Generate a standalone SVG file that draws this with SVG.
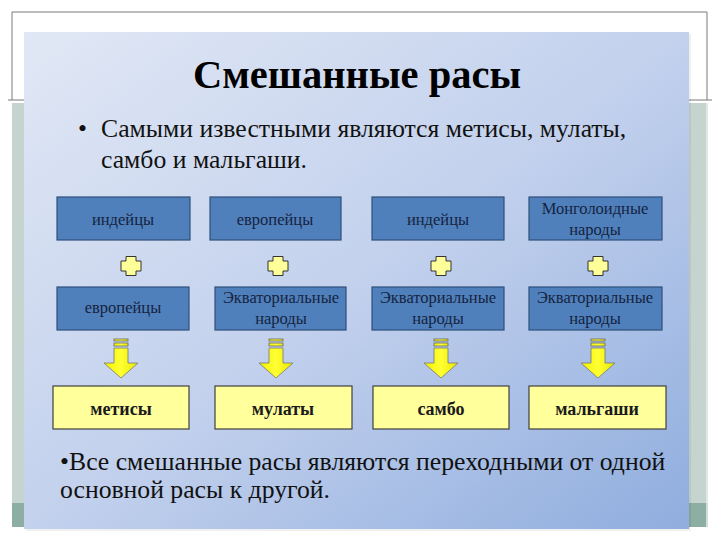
<svg xmlns="http://www.w3.org/2000/svg" width="720" height="540" viewBox="0 0 720 540">
<defs>
<linearGradient id="panel" x1="0" y1="0" x2="1" y2="1">
<stop offset="0" stop-color="#e1e8f5"/>
<stop offset="0.5" stop-color="#c3d1ed"/>
<stop offset="1" stop-color="#8fadde"/>
</linearGradient>
<linearGradient id="arrowFill" x1="0" y1="0" x2="1" y2="0">
<stop offset="0" stop-color="#f2f200"/>
<stop offset="0.5" stop-color="#ffff33"/>
<stop offset="1" stop-color="#e8e800"/>
</linearGradient>
<g id="plus">
<path d="M-5,-9.5 H5 V-5 H10 V5 H5 V9.5 H-5 V5 H-10 V-5 H-5 Z" fill="#ffff99" stroke="#333" stroke-width="1" stroke-linejoin="round"/>
</g>
<g id="arrow">
<rect x="-7" y="0" width="14" height="2" fill="url(#arrowFill)" stroke="#666" stroke-width="0.8"/>
<rect x="-7" y="4" width="14" height="3" fill="url(#arrowFill)" stroke="#666" stroke-width="0.8"/>
<path d="M-7,9 H7 V24 H17 L0,39 L-17,24 H-7 Z" fill="url(#arrowFill)" stroke="#777" stroke-width="0.8" stroke-linejoin="round"/>
</g>
</defs>
<style>
.blue{fill:#4f80bb;stroke:#2d4f7a;stroke-width:1.2}
.yel{fill:#ffff9c;stroke:#404040;stroke-width:1.2}
.bt{font-size:16.5px;fill:#16233f;text-anchor:middle}
.yt{font-size:18px;font-weight:bold;fill:#1a1a1a;text-anchor:middle}
.body{font-size:25.7px;fill:#111}
</style>
<rect x="0" y="0" width="720" height="540" fill="#ffffff"/>
<g id="frame">
<rect x="12" y="103" width="696" height="400" fill="#c6d4cf"/>
<rect x="12" y="503" width="696" height="24" fill="#8daea2"/>
<path d="M12,100 V12 H707 V100" fill="none" stroke="#7a7a7a" stroke-width="1"/>
<line x1="8" y1="100" x2="712" y2="100" stroke="#7a7a7a" stroke-width="1"/>
<line x1="707" y1="103" x2="707" y2="527" stroke="#e8eeec" stroke-width="1.5"/>
</g>
<rect x="26" y="34" width="665" height="497" fill="#000" opacity="0.06"/>
<rect id="panel" x="24" y="32" width="665" height="497" fill="url(#panel)"/>
<g font-family="'Liberation Serif','DejaVu Serif Condensed','DejaVu Serif',serif">
<g id="title">
<text x="357" y="88" text-anchor="middle" font-size="40.5" font-weight="bold" fill="#000">Смешанные расы</text>
</g>
<g id="intro">
<text class="body" x="78" y="137">•</text>
<text class="body" x="101" y="137">Самыми известными являются метисы, мулаты,</text>
<text class="body" x="101" y="168">самбо и мальгаши.</text>
</g>
<g id="n-r1-1"><rect class="blue" x="57" y="197" width="133" height="43"/><text class="bt" x="123" y="225">индейцы</text></g>
<g id="n-r1-2"><rect class="blue" x="210" y="197" width="131" height="43"/><text class="bt" x="275" y="225">европейцы</text></g>
<g id="n-r1-3"><rect class="blue" x="372" y="197" width="132" height="43"/><text class="bt" x="438" y="225">индейцы</text></g>
<g id="n-r1-4"><rect class="blue" x="529" y="197" width="133" height="43"/><text class="bt" x="595" y="214">Монголоидные</text><text class="bt" x="595" y="235">народы</text></g>
<g id="n-r2-1"><rect class="blue" x="57" y="287" width="132" height="43"/><text class="bt" x="123" y="313">европейцы</text></g>
<g id="n-r2-2"><rect class="blue" x="215" y="287" width="131" height="43"/><text class="bt" x="281" y="303">Экваториальные</text><text class="bt" x="281" y="324">народы</text></g>
<g id="n-r2-3"><rect class="blue" x="372" y="287" width="132" height="43"/><text class="bt" x="438" y="303">Экваториальные</text><text class="bt" x="438" y="324">народы</text></g>
<g id="n-r2-4"><rect class="blue" x="529" y="287" width="133" height="43"/><text class="bt" x="595" y="303">Экваториальные</text><text class="bt" x="595" y="324">народы</text></g>
<g id="n-r3-1"><rect class="yel" x="53" y="386" width="136" height="43"/><text class="yt" x="121" y="415">метисы</text></g>
<g id="n-r3-2"><rect class="yel" x="215" y="386" width="137" height="43"/><text class="yt" x="283" y="415">мулаты</text></g>
<g id="n-r3-3"><rect class="yel" x="373" y="386" width="136" height="43"/><text class="yt" x="441" y="415">самбо</text></g>
<g id="n-r3-4"><rect class="yel" x="529" y="386" width="137" height="43"/><text class="yt" x="597" y="415">мальгаши</text></g>
<g id="summary">
<text class="body" x="60" y="470">•Все смешанные расы являются переходными от одной</text>
<text class="body" x="60" y="498">основной расы к другой.</text>
</g>
</g>
<g id="connectors">
<use href="#plus" x="131" y="266"/>
<use href="#plus" x="278" y="266"/>
<use href="#plus" x="441" y="266"/>
<use href="#plus" x="598" y="266"/>
<use href="#arrow" x="121" y="339"/>
<use href="#arrow" x="276" y="339"/>
<use href="#arrow" x="441" y="339"/>
<use href="#arrow" x="598" y="339"/>
</g>
</svg>
